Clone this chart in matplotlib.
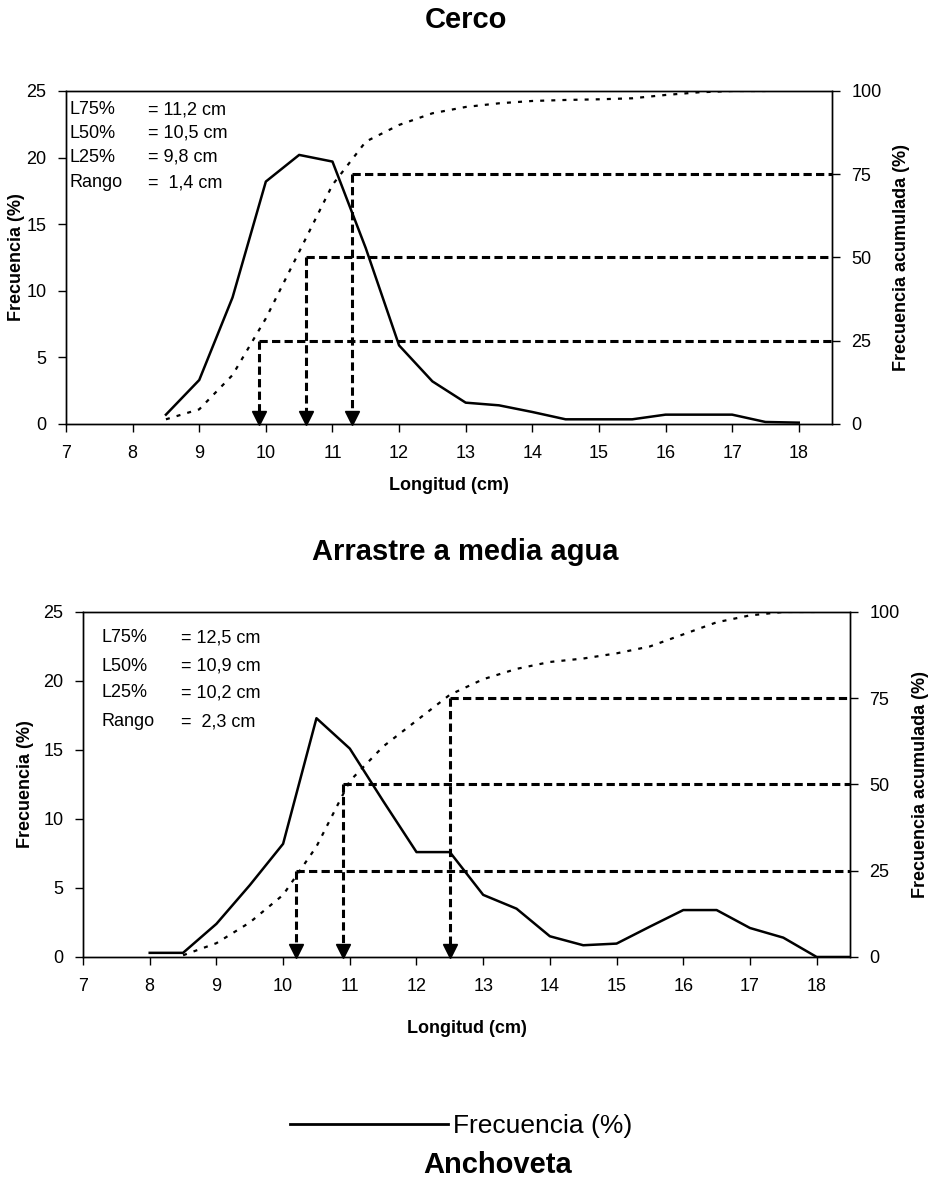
import matplotlib
matplotlib.use("Agg")
import matplotlib.pyplot as plt
from matplotlib.lines import Line2D
from matplotlib.transforms import ScaledTranslation

plt.rcParams['font.family'] = ['Liberation Sans', 'DejaVu Sans']

# Cerco
top_x = [8.5, 9, 9.5, 10, 10.5, 11, 11.5, 12, 12.5, 13, 13.5, 14, 14.5, 15, 15.5, 16, 16.5, 17, 17.5, 18]
top_freq = [0.7, 3.3, 9.5, 18.2, 20.2, 19.7, 13.2, 5.9, 3.2, 1.6, 1.4, 0.9, 0.35, 0.35, 0.35, 0.7, 0.7, 0.7, 0.15, 0.1]
top_cum_x = [8.5, 9, 9.5, 10, 10.5, 11, 11.5, 12, 12.5, 13, 13.5, 14, 14.5, 15, 15.5, 16, 16.5, 17, 17.5]
top_cum = [1.4, 4.4, 14.7, 31.7, 51.7, 71.8, 84.8, 89.8, 93.3, 95.2, 96.3, 97.0, 97.3, 97.5, 97.8, 98.8, 99.6, 100, 100]
top_qx = [9.9, 10.6, 11.3]
top_labels = ["L75%", "L50%", "L25%", "Rango"]
top_values = ["= 11,2 cm", "= 10,5 cm", "= 9,8 cm", "=  1,4 cm"]

# Arrastre a media agua
bot_x = [8, 8.5, 9, 9.5, 10, 10.5, 11, 11.5, 12, 12.5, 13, 13.5, 14, 14.5, 15, 15.5, 16, 16.5, 17, 17.5, 18, 18.5]
bot_freq = [0.3, 0.3, 2.4, 5.2, 8.2, 17.3, 15.1, 11.3, 7.6, 7.6, 4.5, 3.5, 1.5, 0.85, 0.97, 2.2, 3.4, 3.4, 2.1, 1.4, 0.0, 0.0]
bot_cum_x = [8.5, 9, 9.5, 10, 10.5, 11, 11.5, 12, 12.5, 13, 13.5, 14, 14.5, 15, 15.5, 16, 16.5, 17, 17.5, 18]
bot_cum = [0.5, 4, 10, 18, 32, 51, 61, 68.5, 76, 80.5, 83.5, 85.5, 86.5, 88, 90, 93.5, 97, 99, 100, 100]
bot_qx = [10.2, 10.9, 12.5]
bot_labels = ["L75%", "L50%", "L25%", "Rango"]
bot_values = ["= 12,5 cm", "= 10,9 cm", "= 10,2 cm", "=  2,3 cm"]

q_levels = [25, 50, 75]
x_ticks = list(range(7, 19))

fig = plt.figure(figsize=(9.35, 11.8), dpi=100)


def panel(rect, x, freq, cx, cum, qx, labels, values, lab_x, val_x, lab_y,
          ylab_x, y2lab_x, xlab_y):
    ax = fig.add_axes(rect)
    ax2 = ax.twinx()
    ax.plot(x, freq, color="black", lw=1.8, zorder=3)
    ax2.plot(cx, cum, color="black", lw=1.6, dashes=(1.8, 3.2))
    arrow_tr = ax2.transData + ScaledTranslation(0, 4.5 / 72, fig.dpi_scale_trans)
    for q, lev in zip(qx, q_levels):
        ax2.plot([q, 18.5], [lev, lev], color="black", lw=2.2, dashes=(2.7, 1.4))
        ax2.plot([q, q], [lev, 2], color="black", lw=2.2, dashes=(2.7, 1.4))
        ax2.plot([q], [0], marker="v", color="black", markersize=10, transform=arrow_tr, clip_on=False)
    ax.set_xlim(7, 18.5)
    ax.set_ylim(0, 25)
    ax2.set_ylim(0, 100)
    ax.set_xticks(x_ticks)
    ax.set_yticks([0, 5, 10, 15, 20, 25])
    ax2.set_yticks([0, 25, 50, 75, 100])
    ax.tick_params(axis="x", length=6, width=1, labelsize=13, pad=9)
    ax.tick_params(axis="y", length=6, width=1, labelsize=13, pad=8)
    ax2.tick_params(axis="y", length=6, width=1, labelsize=13, pad=8)
    for a in (ax, ax2):
        for s in a.spines.values():
            s.set_linewidth(1.0)
    ax.set_xlabel("Longitud (cm)", fontsize=13, fontweight="bold")
    ax.xaxis.set_label_coords(0.5, xlab_y)
    ax.set_ylabel("Frecuencia (%)", fontsize=13, fontweight="bold")
    ax.yaxis.set_label_coords(ylab_x, 0.5)
    ax2.set_ylabel("Frecuencia acumulada (%)", fontsize=13, fontweight="bold", rotation=90)
    ax2.yaxis.set_label_coords(y2lab_x, 0.5)
    for lab, val, yy in zip(labels, values, lab_y):
        ax.text(lab_x, yy, lab, transform=ax.transAxes, fontsize=13, va="center", ha="left")
        ax.text(val_x, yy, val, transform=ax.transAxes, fontsize=13, va="center", ha="left")
    return ax


panel([0.0706, 0.6407, 0.8193, 0.2822], top_x, top_freq, top_cum_x, top_cum, top_qx,
      top_labels, top_values, 0.004, 0.107, [0.943, 0.873, 0.801, 0.725],
      -0.054, 1.079, -0.159)
panel([0.0888, 0.189, 0.8203, 0.2924], bot_x, bot_freq, bot_cum_x, bot_cum, bot_qx,
      bot_labels, bot_values, 0.0235, 0.128, [0.925, 0.843, 0.766, 0.682],
      -0.064, 1.081, -0.183)

fig.text(0.498, 1 - 20 / 1180, "Cerco", fontsize=21, fontweight="bold", ha="center", va="center")
fig.text(0.498, 1 - 552 / 1180, "Arrastre a media agua", fontsize=21, fontweight="bold",
         ha="center", va="center")

handle = Line2D([], [], color="black", lw=2)
fig.legend(handles=[handle], labels=["Frecuencia (%)"], loc="center",
           bbox_to_anchor=(0.493, 1 - 1126 / 1180), frameon=False, fontsize=19,
           handlelength=6, handletextpad=0.2)
fig.text(0.532, 1 - 1165 / 1180, "Anchoveta", fontsize=21, fontweight="bold", ha="center", va="center")

fig.savefig("out.png", dpi=100)
